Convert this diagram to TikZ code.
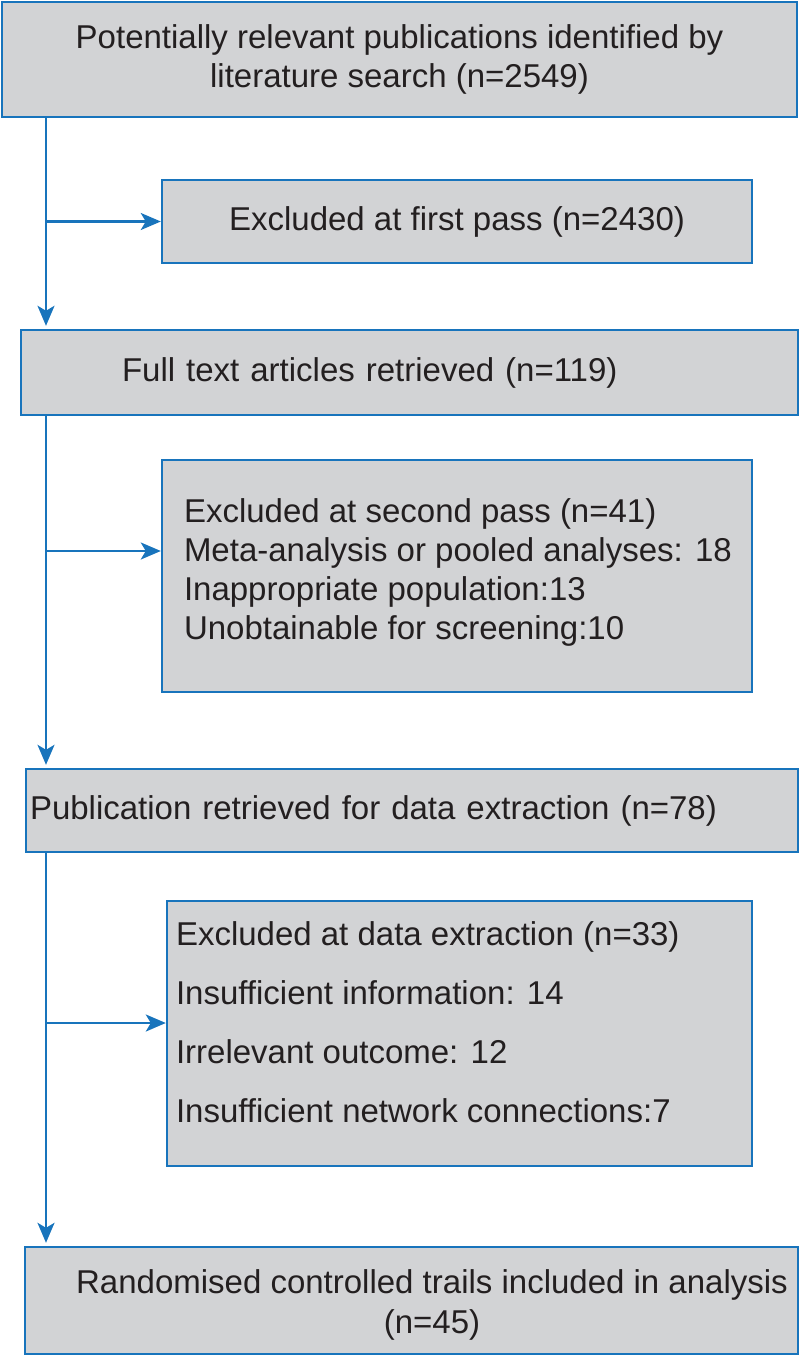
\documentclass[tikz,border=0pt]{standalone}
\usepackage{fontspec}
\setmainfont{Liberation Sans}
\usetikzlibrary{arrows.meta,positioning}
\definecolor{boxgray}{RGB}{210,211,213}
\definecolor{flowblue}{RGB}{24,116,188}
\definecolor{inkgray}{RGB}{35,31,32}
\tikzset{box/.style={draw=flowblue,fill=boxgray,line width=2.4pt,inner sep=0pt,text=inkgray,font=\fontsize{33}{39.5}\selectfont}}
\tikzset{txt/.style={inner sep=0pt,text=inkgray,align=left}}
\tikzset{link/.style={draw=flowblue,line width=2.4pt,-{Stealth[length=20pt,width=17pt,inset=5pt]}}}

\begin{document}
\begin{tikzpicture}[x=1pt,y=-1pt]
    \useasboundingbox (0,0) rectangle (800,1356);
    \node[box,minimum width=795pt,minimum height=115pt,align=center] (lit) at (399.5,59.5) {Potentially relevant publications identified by\\literature search (n=2549)};
    \node[box,minimum width=590pt,minimum height=83pt] (first) at (457,221.5) {Excluded at first pass (n=2430)};
    \node[box,minimum width=777pt,minimum height=85pt,text width=575pt,align=left] (full) at (409.5,372.5) {Full text articles retrieved (n=119)};
    \node[box,minimum width=590pt,minimum height=232pt] (second) at (457,576) {};
    \node[txt,font=\fontsize{33}{39}\selectfont,below right=40pt and 23pt of second.north west] (secondtxt) {Excluded at second pass (n=41)\\Meta-analysis or pooled analyses: 18\\Inappropriate population:13\\Unobtainable for screening:10};
    \node[box,minimum width=772pt,minimum height=83pt,text width=764pt,align=left] (pub) at (412,810.5) {Publication retrieved for data extraction (n=78)};
    \node[box,minimum width=585pt,minimum height=265pt] (data) at (459.5,1033.5) {};
    \node[txt,font=\fontsize{33}{58.8}\selectfont,below right=22pt and 10pt of data.north west] (datatxt) {Excluded at data extraction (n=33)\\Insufficient information: 14\\Irrelevant outcome: 12\\Insufficient network connections:7};
    \node[box,minimum width=773pt,minimum height=107pt] (rct) at (411.5,1300.5) {};
    \node[txt,align=center,font=\fontsize{33}{40}\selectfont] (rcttxt) at ([shift={(20.5pt,-4.5pt)}]rct.center) {Randomised controlled trails included in analysis\\(n=45)};
    \coordinate (spine) at (46,0);
    \coordinate (secondin) at ([yshift=25pt]second.west);
    \coordinate (datain) at ([yshift=10.5pt]data.west);
    \draw[link,shorten >=3pt] (lit.south -| spine) -- (full.north -| spine);
    \draw[link] (spine |- first.west) -- (first.west);
    \draw[link,shorten >=3pt] (full.south -| spine) -- (pub.north -| spine);
    \draw[link] (spine |- secondin) -- (secondin);
    \draw[link,shorten >=3pt] (pub.south -| spine) -- (rct.north -| spine);
    \draw[link] (spine |- datain) -- (datain);
  \end{tikzpicture}
\end{document}
